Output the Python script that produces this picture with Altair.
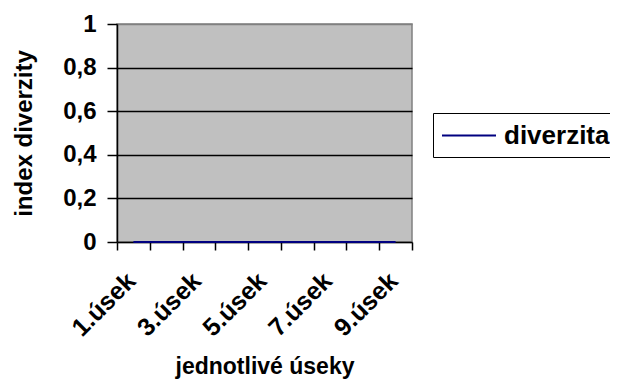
import altair as alt
import pandas as pd

categories = ["1.úsek", "2.úsek", "3.úsek", "4.úsek", "5.úsek",
              "6.úsek", "7.úsek", "8.úsek", "9.úsek"]
values = [0, 0, 0, 0, 0, 0, 0, 0, 0]
series = ["diverzita"] * len(categories)

df = pd.DataFrame({"usek": categories, "hodnota": values, "serie": series})

FONT = "Liberation Sans"

chart = alt.Chart(df).mark_line(strokeWidth=2).encode(
    x=alt.X(
        "usek:N",
        sort=categories,
        scale=alt.Scale(type="band", paddingInner=0, paddingOuter=0),
        axis=alt.Axis(
            title="jednotlivé úseky",
            titleFont=FONT, titleFontSize=23, titleFontWeight="bold",
            titleColor="black", titlePadding=15,
            labelFont=FONT, labelFontSize=25, labelFontWeight="bold",
            labelColor="black", labelAngle=-45, labelAlign="right",
            labelBaseline="top", labelPadding=18, labelOffset=-11,
            labelOverlap=False, labelLimit=300,
            labelExpr="toNumber(split(datum.value, '.')[0]) % 2 == 1 ? datum.label : ''",
            tickBand="extent", tickColor="black", tickSize=8, tickWidth=1.5,
            domainColor="black", domainWidth=1.5, grid=False,
        ),
    ),
    y=alt.Y(
        "hodnota:Q",
        scale=alt.Scale(domain=[0, 1], nice=False),
        axis=alt.Axis(
            title="index diverzity",
            titleFont=FONT, titleFontSize=24, titleFontWeight="bold",
            titleColor="black", titlePadding=26,
            labelFont=FONT, labelFontSize=24, labelFontWeight="bold",
            labelColor="black", labelPadding=11,
            values=[0, 0.2, 0.4, 0.6, 0.8, 1],
            labelExpr="replace(format(datum.value, '~g'), '.', ',')",
            tickColor="black", tickSize=10, tickWidth=1.5,
            domainColor="black", domainWidth=1.5,
            grid=True, gridWidth=1.5,
            gridColor={"condition": {"test": "datum.value == 1 || datum.value == 0", "value": "#808080"}, "value": "black"},
        ),
    ),
    color=alt.Color(
        "serie:N",
        scale=alt.Scale(range=["#000080"]),
        legend=alt.Legend(
            title=None, orient="none", legendX=316, legendY=89,
            strokeColor="black", fillColor="white", padding=8,
            symbolType="M-1,0H3", symbolSize=729, symbolStrokeWidth=2,
            labelOffset=34,
            labelFont=FONT, labelFontSize=26, labelFontWeight="bold",
            labelColor="black", labelLimit=300,
        ),
    ),
).properties(
    width=295,
    height=218,
    autosize=alt.AutoSizeParams(type="none"),
    padding={"left": 109, "top": 16, "right": 198, "bottom": 140},
).configure_view(
    fill="#c0c0c0", stroke="#808080", strokeWidth=1.5
)

chart.save("out.html", embed_options={"renderer": "svg", "actions": False})
